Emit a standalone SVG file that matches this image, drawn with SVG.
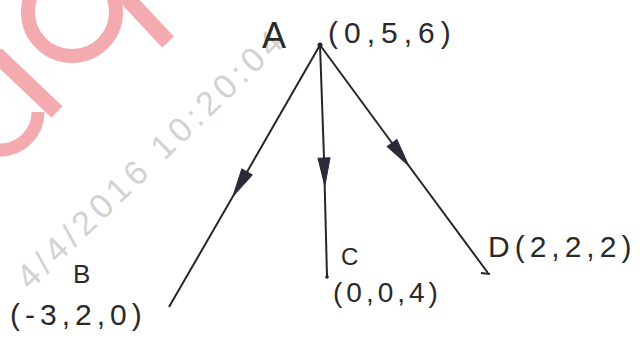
<svg xmlns="http://www.w3.org/2000/svg" width="640" height="347" viewBox="0 0 640 347">
<style>
.hand{font-family:"Liberation Sans","DejaVu Sans",sans-serif;fill:#2a2a2a}
.wm{font-family:"Liberation Sans","DejaVu Sans",sans-serif;fill:#d2d2d2;font-size:34px;letter-spacing:5px}
.pink{fill:none;stroke:#f4abaf;stroke-linecap:butt}
.edge{fill:none;stroke:#262626;stroke-width:2;marker-mid:url(#arr)}
</style>
<defs>
<marker id="arr" markerUnits="userSpaceOnUse" orient="auto" refX="0" refY="0" markerWidth="40" markerHeight="20" overflow="visible">
<path d="M0,-6 L28,0 L0,6 Z" fill="#2a2a3a" stroke="#2a2a3a" stroke-width="1"/>
</marker>
</defs>
<rect width="640" height="347" fill="#ffffff"/>
<g id="watermark">
<circle class="pink" cx="72" cy="12" r="44" stroke-width="14"/>
<line class="pink" x1="125" y1="-4" x2="168" y2="42" stroke-width="16"/>
<line class="pink" x1="-4" y1="54" x2="57" y2="112" stroke-width="16"/>
<path class="pink" d="M38,112 A38,38 0 0 1 0,150" stroke-width="13"/>
<text class="wm" x="30" y="291" transform="rotate(-44 30 291)">4/4/2016 10:20:04</text>
</g>
<g id="connectors">
<path class="edge" d="M320,45 L247,172 L169,307"/>
<path class="edge" d="M320,45 L324,158 L327,277"/>
<path class="edge" d="M320,45 L392,143 L488,273"/>
<line x1="481" y1="273" x2="490" y2="274" stroke="#262626" stroke-width="2"/>
</g>
<g id="node-A">
<circle cx="320" cy="45" r="2.5" fill="#222"/>
<text class="hand" x="262" y="48" font-size="36">A</text>
<text class="hand" x="328" y="43" font-size="30" letter-spacing="6">(0,5,6)</text>
</g>
<g id="node-B">
<text class="hand" x="73" y="283" font-size="26">B</text>
<text class="hand" x="10" y="325" font-size="30" letter-spacing="5">(-3,2,0)</text>
</g>
<g id="node-C">
<circle cx="327" cy="277" r="1.8" fill="#222"/>
<text class="hand" x="341" y="265" font-size="24">C</text>
<text class="hand" x="333" y="302" font-size="28" letter-spacing="4">(0,0,4)</text>
</g>
<g id="node-D">
<text class="hand" x="488" y="257" font-size="30" letter-spacing="5">D(2,2,2)</text>
</g>
</svg>
